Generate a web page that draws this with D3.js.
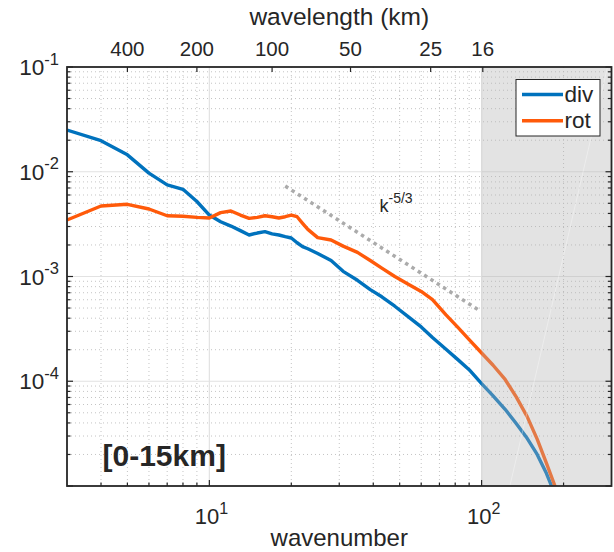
<!DOCTYPE html>
<html>
<head>
<meta charset="utf-8">
<script src="https://cdn.jsdelivr.net/npm/d3@7"></script>
<style>
  html, body { margin: 0; padding: 0; background: #fff; }
  svg { display: block; }
  text { font-family: "Liberation Sans", Arial, Helvetica, sans-serif; fill: #262626; }
</style>
</head>
<body>
<svg id="chart" width="614" height="552"></svg>
<script>
// Kinetic energy spectra, 0-15 km layer: divergent vs rotational parts
const wavenumber = [3, 4, 5, 6, 7, 8, 9, 10, 11, 12, 13, 14, 15, 16, 17, 18, 19, 20, 21, 22, 23,
  25, 28, 31, 35, 39, 43, 48, 54, 60, 66, 74, 82, 90, 100, 110, 122, 134, 147, 160, 173, 186, 200];
const divSpectrum = [2.5e-2, 1.98e-2, 1.45e-2, 9.7e-3, 7.5e-3, 6.8e-3, 5.2e-3, 3.86e-3, 3.33e-3, 3.03e-3,
  2.74e-3, 2.49e-3, 2.6e-3, 2.68e-3, 2.55e-3, 2.49e-3, 2.4e-3, 2.33e-3, 2.1e-3, 1.93e-3, 1.84e-3,
  1.66e-3, 1.42e-3, 1.12e-3, 9.2e-4, 7.5e-4, 6.4e-4, 5.2e-4, 4.1e-4, 3.3e-4, 2.62e-4, 2.02e-4,
  1.6e-4, 1.29e-4, 9.5e-5, 7.3e-5, 5.4e-5, 3.95e-5, 2.85e-5, 2.0e-5, 1.32e-5, 8.3e-6, 5.2e-6];
const rotSpectrum = [3.46e-3, 4.71e-3, 4.89e-3, 4.41e-3, 3.8e-3, 3.76e-3, 3.67e-3, 3.62e-3, 4.07e-3, 4.22e-3,
  3.86e-3, 3.59e-3, 3.67e-3, 3.8e-3, 3.72e-3, 3.62e-3, 3.72e-3, 3.86e-3, 3.72e-3, 3.22e-3, 2.82e-3,
  2.35e-3, 2.23e-3, 1.95e-3, 1.7e-3, 1.42e-3, 1.2e-3, 1.0e-3, 8.4e-4, 7.2e-4, 6.0e-4, 4.3e-4,
  3.25e-4, 2.5e-4, 1.86e-4, 1.43e-4, 1.04e-4, 7.1e-5, 4.6e-5, 2.8e-5, 1.65e-5, 1.0e-5, 6e-6];

const seriesNames = ["div", "rot"];
const seriesColors = ["#0072BD", "#FF5A0A"];

const xDecadeExps = [1, 2];
const yDecadeExps = [-1, -2, -3, -4];
const wavelengthTicks = [400, 200, 100, 50, 25, 16];   // km
const domainLength = 1600;                              // km, k = 1 + L / wavelength

// -5/3 reference slope
const slopeK = [19, 98];
const slopeE = [7.3e-3, 4.75e-4];
const slopeLabel = ["k", "-5/3"];

// shaded (unresolved) band and the seam of its two triangles
const shadeK = [100, 300];
const seamK = [127, 290];

const regionLabel = "[0-15km]";

const W = 614, H = 552;
const box = { left: 67, right: 611.5, top: 67, bottom: 486 };

const x = d3.scaleLog().domain([3, 300]).range([box.left, box.right]);
const y = d3.scaleLog().domain([1e-5, 1e-1]).range([box.bottom, box.top]);

const svg = d3.select("#chart");
const ink = "#262626";

svg.append("defs").append("clipPath").attr("id", "plotClip")
  .append("rect")
  .attr("x", box.left).attr("y", box.top)
  .attr("width", box.right - box.left).attr("height", box.bottom - box.top);

// grid values
const xMinor = [], yMinor = [];
for (let e = 0; e <= 2; e++) for (let m = 2; m <= 9; m++) {
  const v = m * Math.pow(10, e);
  if (v > 3 && v < 300) xMinor.push(v);
}
for (let e = -5; e <= -2; e++) for (let m = 2; m <= 9; m++) yMinor.push(m * Math.pow(10, e));
const xMajor = xDecadeExps.map(e => Math.pow(10, e));
const yMajor = [1e-2, 1e-3, 1e-4];

const grid = svg.append("g");
grid.selectAll(".gxm").data(xMinor).join("line")
  .attr("x1", d => x(d)).attr("x2", d => x(d))
  .attr("y1", box.top).attr("y2", box.bottom)
  .attr("stroke", "#c4c4c4").attr("stroke-width", 1).attr("stroke-dasharray", "1,3");
grid.selectAll(".gym").data(yMinor).join("line")
  .attr("y1", d => y(d)).attr("y2", d => y(d))
  .attr("x1", box.left).attr("x2", box.right)
  .attr("stroke", "#c4c4c4").attr("stroke-width", 1).attr("stroke-dasharray", "1,3");
grid.selectAll(".gxM").data(xMajor).join("line")
  .attr("x1", d => x(d)).attr("x2", d => x(d))
  .attr("y1", box.top).attr("y2", box.bottom)
  .attr("stroke", "#e2e2e2").attr("stroke-width", 1.2);
grid.selectAll(".gyM").data(yMajor).join("line")
  .attr("y1", d => y(d)).attr("y2", d => y(d))
  .attr("x1", box.left).attr("x2", box.right)
  .attr("stroke", "#e2e2e2").attr("stroke-width", 1.2);

// spectra
const plot = svg.append("g").attr("clip-path", "url(#plotClip)");
const line = d3.line().x(d => x(d[0])).y(d => y(d[1]));
[divSpectrum, rotSpectrum].forEach((vals, i) => {
  plot.append("path")
    .datum(wavenumber.map((k, j) => [k, vals[j]]))
    .attr("d", line)
    .attr("fill", "none")
    .attr("stroke", seriesColors[i])
    .attr("stroke-width", 3.4)
    .attr("stroke-linejoin", "round");
});

// reference slope
plot.append("path")
  .datum(slopeK.map((k, j) => [k, slopeE[j]]))
  .attr("d", line)
  .attr("fill", "none")
  .attr("stroke", "#ababab")
  .attr("stroke-width", 3.5)
  .attr("stroke-dasharray", "3.5,4");

const slopeText = svg.append("text")
  .attr("x", 379.5).attr("y", 212).attr("font-size", 18);
slopeText.append("tspan").text(slopeLabel[0]);
slopeText.append("tspan").attr("dy", -9.5).attr("font-size", 14).text(slopeLabel[1]);

// translucent shading over the high-wavenumber band
plot.append("rect")
  .attr("x", x(shadeK[0])).attr("y", box.top)
  .attr("width", x(shadeK[1]) - x(shadeK[0]))
  .attr("height", box.bottom - box.top)
  .attr("fill", "#b2b2b2").attr("fill-opacity", 0.36);
plot.append("line")
  .attr("x1", x(seamK[0])).attr("y1", y.range()[0])
  .attr("x2", x(seamK[1])).attr("y2", y.range()[1])
  .attr("stroke", "#ffffff").attr("stroke-opacity", 0.35).attr("stroke-width", 1);

// axes box and ticks (inward)
const axes = svg.append("g");
const majLen = 6, minLen = 3.5;
const yMajorTicks = yDecadeExps.map(e => Math.pow(10, e)).concat([1e-5]);
[[yMinor, minLen], [yMajorTicks, majLen]].forEach(([vals, len]) => {
  axes.selectAll(null).data(vals).join("line")
    .attr("x1", box.left).attr("x2", box.left + len)
    .attr("y1", d => y(d)).attr("y2", d => y(d))
    .attr("stroke", ink).attr("stroke-width", 1.2);
  axes.selectAll(null).data(vals).join("line")
    .attr("x1", box.right).attr("x2", box.right - len)
    .attr("y1", d => y(d)).attr("y2", d => y(d))
    .attr("stroke", ink).attr("stroke-width", 1.2);
});
[[xMinor, minLen], [xMajor, majLen]].forEach(([vals, len]) => {
  axes.selectAll(null).data(vals).join("line")
    .attr("x1", d => x(d)).attr("x2", d => x(d))
    .attr("y1", box.bottom).attr("y2", box.bottom - len)
    .attr("stroke", ink).attr("stroke-width", 1.2);
});
const wavelengthK = wavelengthTicks.map(l => 1 + domainLength / l);
axes.selectAll(null).data(wavelengthK).join("line")
  .attr("x1", d => x(d)).attr("x2", d => x(d))
  .attr("y1", box.top).attr("y2", box.top + 5)
  .attr("stroke", ink).attr("stroke-width", 1.2);

axes.append("rect")
  .attr("x", box.left).attr("y", box.top)
  .attr("width", box.right - box.left).attr("height", box.bottom - box.top)
  .attr("fill", "none").attr("stroke", ink).attr("stroke-width", 1.8);

// tick labels
yDecadeExps.forEach(e => {
  const t = svg.append("text")
    .attr("x", 59).attr("y", y(Math.pow(10, e)) + 8)
    .attr("text-anchor", "end").attr("font-size", 22.5);
  t.append("tspan").text("10");
  t.append("tspan").attr("dy", -10.5).attr("font-size", 16.5).text(String(e));
});
xDecadeExps.forEach(e => {
  const t = svg.append("text")
    .attr("x", x(Math.pow(10, e)) + 2).attr("y", 524)
    .attr("text-anchor", "middle").attr("font-size", 22);
  t.append("tspan").text("10");
  t.append("tspan").attr("dy", -10.5).attr("font-size", 16).text(String(e));
});
svg.selectAll(null).data(wavelengthTicks).join("text")
  .attr("x", (d, i) => x(wavelengthK[i]))
  .attr("y", 56)
  .attr("text-anchor", "middle").attr("font-size", 20.5)
  .text(d => d);

// axis titles
svg.append("text").attr("x", (box.left + box.right) / 2).attr("y", 546)
  .attr("text-anchor", "middle").attr("font-size", 24).text("wavenumber");
svg.append("text").attr("x", (box.left + box.right) / 2).attr("y", 25)
  .attr("text-anchor", "middle").attr("font-size", 24.5).text("wavelength (km)");

// region label
svg.append("text").attr("x", 102.5).attr("y", 466)
  .attr("font-size", 30).attr("font-weight", "bold").attr("fill", "#000")
  .text(regionLabel);

// legend
const lg = svg.append("g");
lg.append("rect").attr("x", 516).attr("y", 79.5).attr("width", 84).attr("height", 56.5)
  .attr("fill", "#fff").attr("stroke", ink).attr("stroke-width", 1);
seriesNames.forEach((name, i) => {
  const ly = 94.5 + i * 26.2;
  lg.append("line").attr("x1", 522).attr("x2", 563).attr("y1", ly).attr("y2", ly)
    .attr("stroke", seriesColors[i]).attr("stroke-width", 3.5);
  lg.append("text").attr("x", 564.5).attr("y", ly + 7).attr("font-size", 22.5)
    .attr("fill", "#000").text(name);
});
</script>
</body>
</html>
